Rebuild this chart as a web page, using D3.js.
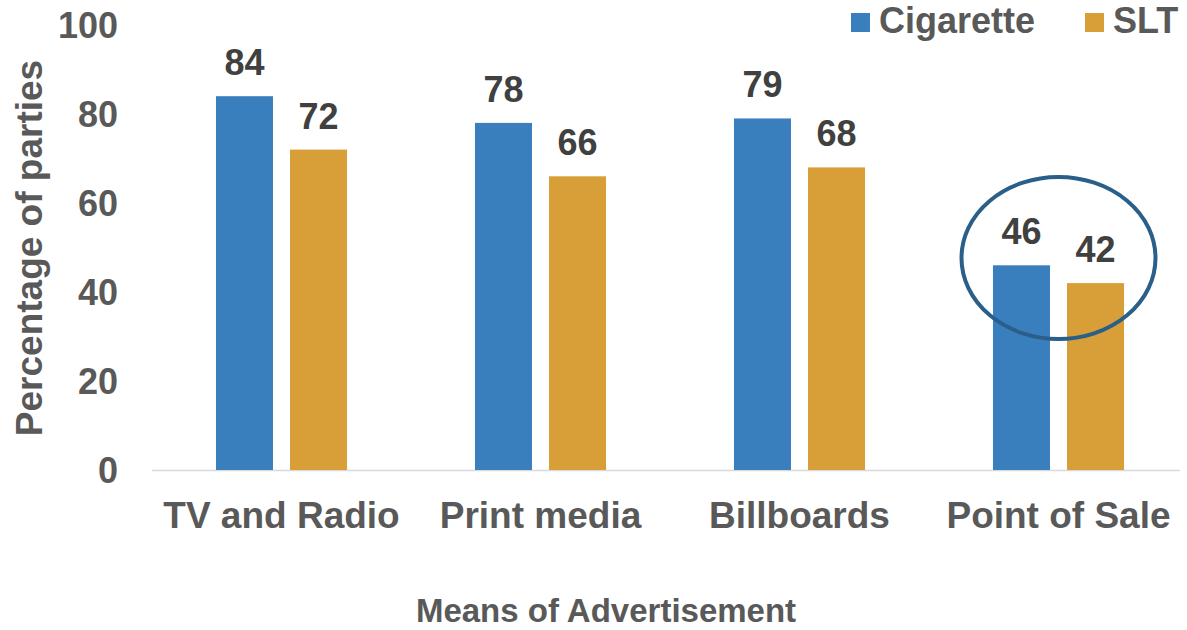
<!DOCTYPE html>
<html>
<head>
<meta charset="utf-8">
<script src="https://cdn.jsdelivr.net/npm/d3@7"></script>
<style>
  body { margin: 0; background: #fff; }
  text { font-family: "Liberation Sans", Arial, sans-serif; font-weight: bold; }
</style>
</head>
<body>
<div id="chart"></div>
<script>
// Chart data
const categories = ["TV and Radio", "Print media", "Billboards", "Point of Sale"];
const seriesNames = ["Cigarette", "SLT"];
const cigarette = [84, 78, 79, 46];
const slt = [72, 66, 68, 42];
const yTicks = [0, 20, 40, 60, 80, 100];

const width = 1187, height = 630;
const color = d3.scaleOrdinal().domain(seriesNames).range(["#3a7fbd", "#d89f38"]);

const svg = d3.select("#chart")
    .append("svg")
    .attr("width", width)
    .attr("height", height);

const x0 = d3.scaleBand().domain(categories).range([152, 1188])
    .paddingInner(0.494).paddingOuter(0.247);
const x1 = d3.scaleBand().domain(seriesNames).range([0, x0.bandwidth()])
    .paddingInner(0.23);
const y = d3.scaleLinear().domain([0, 100]).range([470, 25]);

// tick labels (no gridlines)
svg.append("g")
    .selectAll("text")
    .data(yTicks)
    .enter()
    .append("text")
    .attr("x", 118)
    .attr("y", d => y(d) + 13)
    .attr("text-anchor", "end")
    .style("font-size", "36px")
    .style("fill", "#595959")
    .text(d => d);

// baseline
svg.append("line")
    .attr("x1", 152).attr("x2", 1180)
    .attr("y1", y(0) + 0.5).attr("y2", y(0) + 0.5)
    .style("stroke", "#d9d9d9")
    .style("stroke-width", 1.5);

const rows = categories.map((c, i) => ({ cat: c, values: [cigarette[i], slt[i]] }));

const groups = svg.selectAll("g.grp")
    .data(rows)
    .enter()
    .append("g")
    .attr("class", "grp")
    .attr("transform", d => `translate(${x0(d.cat)},0)`);

groups.selectAll("rect")
    .data(d => d.values.map((v, j) => ({ s: seriesNames[j], v })))
    .enter()
    .append("rect")
    .attr("x", d => x1(d.s))
    .attr("y", d => y(d.v))
    .attr("width", x1.bandwidth())
    .attr("height", d => y(0) - y(d.v))
    .style("fill", d => color(d.s));

groups.selectAll("text.val")
    .data(d => d.values.map((v, j) => ({ s: seriesNames[j], v })))
    .enter()
    .append("text")
    .attr("class", "val")
    .attr("x", d => x1(d.s) + x1.bandwidth() / 2)
    .attr("y", d => y(d.v) - 21)
    .attr("text-anchor", "middle")
    .style("font-size", "36px")
    .style("fill", "#404040")
    .text(d => d.v);

// category labels
svg.append("g")
    .selectAll("text")
    .data(categories)
    .enter()
    .append("text")
    .attr("x", d => x0(d) + x0.bandwidth() / 2)
    .attr("y", 528)
    .attr("text-anchor", "middle")
    .style("font-size", "37px")
    .style("fill", "#595959")
    .text(d => d);

// axis titles
svg.append("text")
    .attr("x", 606)
    .attr("y", 622)
    .attr("text-anchor", "middle")
    .style("font-size", "33px")
    .style("fill", "#595959")
    .text("Means of Advertisement");

svg.append("text")
    .attr("transform", "translate(42,248) rotate(-90)")
    .attr("text-anchor", "middle")
    .style("font-size", "37px")
    .style("fill", "#595959")
    .text("Percentage of parties");

// highlight ellipse around Point of Sale
const pos = categories[3];
svg.append("ellipse")
    .attr("cx", x0(pos) + x0.bandwidth() / 2)
    .attr("cy", 258)
    .attr("rx", 97)
    .attr("ry", 81)
    .style("fill", "none")
    .style("stroke", "#2a5f8a")
    .style("stroke-width", 4);

// legend
const legendX = [851, 1085];
seriesNames.forEach((s, i) => {
    svg.append("rect")
        .attr("x", legendX[i]).attr("y", 13)
        .attr("width", 19).attr("height", 19)
        .style("fill", color(s));
    svg.append("text")
        .attr("x", legendX[i] + 28)
        .attr("y", 33)
        .style("font-size", "36px")
        .style("fill", "#595959")
        .text(s);
});
</script>
</body>
</html>
